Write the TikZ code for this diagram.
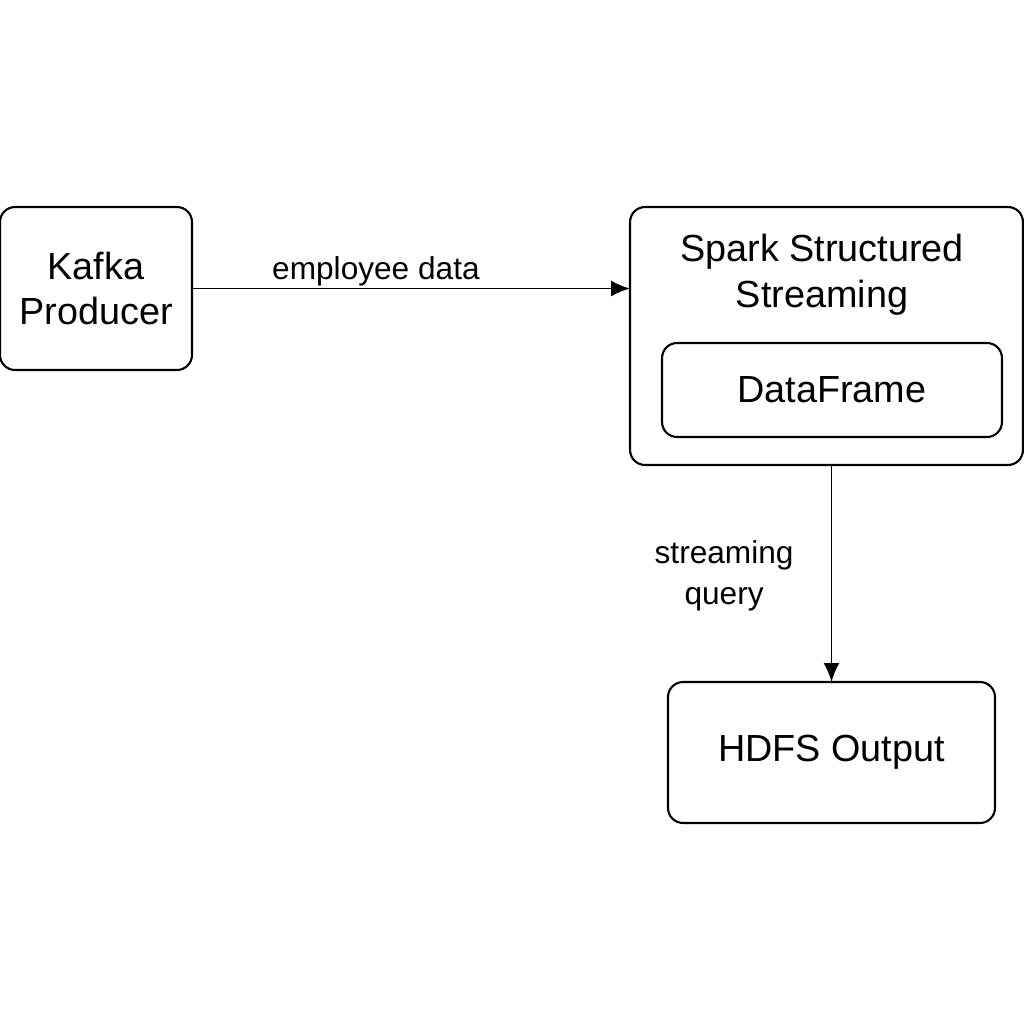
\documentclass[tikz,border=0pt]{standalone}
\usepackage{fontspec}
\setmainfont{Liberation Sans}
\usetikzlibrary{arrows.meta}

\begin{document}
\begin{tikzpicture}[x=0.02cm, y=-0.02cm,
  every node/.style={font=\fontsize{21.5}{26}\selectfont, align=center, outer sep=0pt},
  box/.style={draw, line width=1.2pt, rounded corners=0.3cm},
  link/.style={line width=1.1pt, -{Latex[length=0.38cm, width=0.32cm]}},
  lbl/.style={font=\fontsize{18}{23}\selectfont, inner sep=0pt}]
  \useasboundingbox (0,0) rectangle (1024,1024);

  \node[box, minimum width=3.84cm, minimum height=3.26cm] (kafka) at (96,288.5) {Kafka\\Producer};
  \node[box, minimum width=7.86cm, minimum height=5.16cm] (spark) at (826.5,336) {};
  \node (title) at (822,275) {Spark Structured\\Streaming};
  \node[box, minimum width=6.8cm, minimum height=1.88cm] (df) at (832,390) {DataFrame};
  \node[box, minimum width=6.54cm, minimum height=2.82cm] (hdfs) at (831.5,752.5) {HDFS Output};

  \draw[link] (kafka.east) -- node[lbl, pos=0.42, above=0.04cm] {employee data} (kafka.east -| spark.west);
  \draw[link] (hdfs.north |- spark.south) -- node[lbl, left=0.76cm, yshift=-0.05cm] {streaming\\query} (hdfs.north);
\end{tikzpicture}
\end{document}
